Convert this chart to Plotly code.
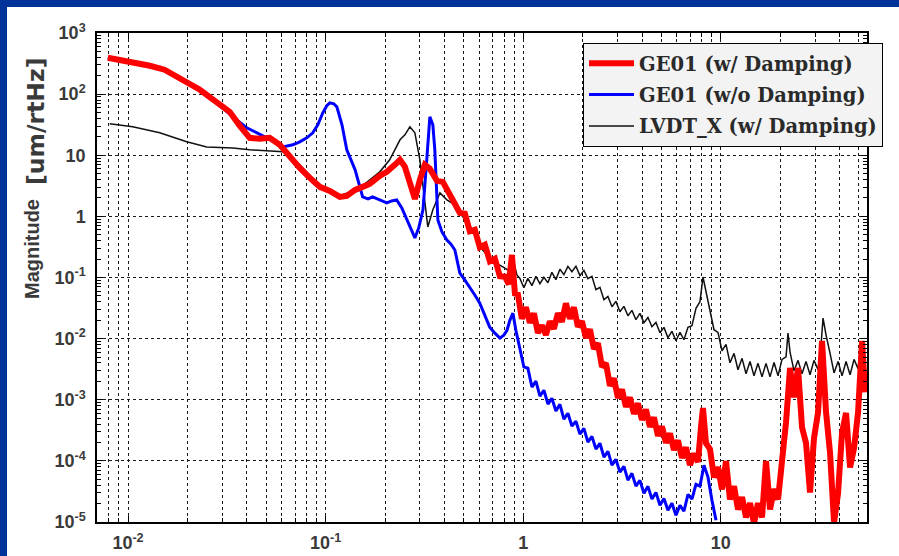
import plotly.graph_objects as go

# ---------------- data ----------------
red_freq = [0.0079, 0.0102, 0.0129, 0.0153, 0.0194, 0.0231, 0.0275, 0.0327, 0.0368, 0.0413,
            0.0464, 0.0521, 0.0586, 0.0659, 0.074, 0.0832, 0.0935, 0.105, 0.118, 0.128,
            0.141, 0.154, 0.167, 0.188, 0.204, 0.224, 0.238, 0.252, 0.267, 0.283,
            0.300, 0.318, 0.337, 0.366, 0.392, 0.436, 0.456, 0.478,
            0.507, 0.537, 0.569, 0.603, 0.640, 0.678, 0.719, 0.762, 0.808, 0.846,
            0.877, 0.908, 0.940, 0.985, 1.032, 1.081, 1.133, 1.187, 1.244, 1.303,
            1.365, 1.430, 1.499, 1.570, 1.645, 1.724, 1.806, 1.892, 1.983, 2.077,
            2.176, 2.280, 2.389, 2.503, 2.623, 2.748, 2.879, 3.017, 3.161, 3.311,
            3.470, 3.636, 3.809, 3.990, 4.181, 4.381, 4.590, 4.809, 5.039, 5.279,
            5.531, 5.795, 6.072, 6.362, 6.665, 6.983, 7.317, 7.666, 7.939, 8.126,
            8.416, 8.818, 9.239, 9.680, 10.14, 10.63, 11.13, 11.67, 12.22, 12.81,
            13.42, 14.06, 14.73, 15.43, 16.17, 16.94, 17.75, 18.60, 19.49, 20.41,
            21.39, 22.41, 23.48, 24.60, 25.77, 27.00, 28.29, 29.64, 31.06, 32.54,
            34.10, 35.73, 37.43, 39.22, 41.09, 43.05, 45.11, 47.26, 49.52, 51.88, 53.73]
red_mag = [394, 339, 291, 251, 165, 118, 77.8, 51.4, 30.3, 19.3,
           18.6, 19.3, 14.8, 9.42, 6.22, 4.26, 3.04, 2.61, 2.08, 2.16,
           2.71, 3.04, 3.40, 4.60, 5.35, 6.97, 8.41, 6.46, 3.53, 1.93,
           3.96, 6.97, 5.99, 3.81, 3.67, 1.93, 1.60, 1.14,
           1.109, 0.571, 0.605, 0.313, 0.344, 0.1845, 0.203, 0.1047, 0.103, 0.0774,
           0.234, 0.0547, 0.0527, 0.0211, 0.0325, 0.0182, 0.0259, 0.01247, 0.01648, 0.01156,
           0.01919, 0.01449, 0.0259, 0.01888, 0.0378, 0.0211, 0.0325, 0.01563, 0.01919, 0.01033,
           0.01419, 0.00682, 0.00838, 0.00346, 0.00394, 0.00169, 0.00223, 0.001074, 0.001476, 0.000766,
           0.001091, 0.000587, 0.000871, 0.000469, 0.000693, 0.00036, 0.000513, 0.000256, 0.000366, 0.000197,
           0.000281, 0.000151, 0.000215, 0.000112, 0.000166, 8.57e-5, 0.000132, 9.6e-5, 0.000356, 0.00073,
           0.000194, 0.000156, 5.36e-5, 7.9e-5, 3.41e-5, 9.93e-5, 2.34e-5, 3.86e-5, 1.60e-5, 2.55e-5,
           1.19e-5, 2.04e-5, 9.46e-6, 2.04e-5, 1.19e-5, 9.93e-5, 1.60e-5, 3.45e-5, 2.34e-5, 9.93e-5,
           0.000427, 0.00332, 0.001094, 0.00332, 0.000353, 0.000196, 3.04e-5, 0.000237, 0.000622, 0.00918,
           0.000622, 0.000135, 9.8e-6, 2.97e-5, 0.000292, 0.000608, 7.8e-5, 0.000162, 0.000622, 0.00918, 0.00132]

blue_freq = [0.0079, 0.0102, 0.0129, 0.0153, 0.0194, 0.0231, 0.0275, 0.0339, 0.0399, 0.0504,
             0.0607, 0.0682, 0.074, 0.0803, 0.0861, 0.0913, 0.0968, 0.1014, 0.105, 0.110,
             0.114, 0.121, 0.128, 0.141, 0.154, 0.164, 0.173, 0.188, 0.204, 0.216,
             0.229, 0.243, 0.258, 0.270, 0.283, 0.296, 0.311, 0.325, 0.337, 0.349,
             0.357, 0.370, 0.388, 0.411, 0.430, 0.451, 0.467, 0.478, 0.507, 0.537,
             0.569, 0.603, 0.638, 0.677, 0.719, 0.762, 0.798, 0.828, 0.857, 0.887, 0.918,
             0.962, 1.008, 1.056, 1.107, 1.160, 1.215, 1.273, 1.334, 1.397, 1.464,
             1.534, 1.607, 1.684, 1.764, 1.849, 1.937, 2.029, 2.126, 2.228, 2.334,
             2.446, 2.562, 2.685, 2.813, 2.947, 3.087, 3.235, 3.389, 3.551, 3.720,
             3.898, 4.084, 4.279, 4.483, 4.697, 4.921, 5.156, 5.402, 5.660, 5.931,
             6.214, 6.511, 6.822, 7.147, 7.488, 7.846, 8.222, 8.614, 9.024, 9.456]
blue_mag = [394, 339, 291, 251, 165, 118, 77.8, 42.6, 28.1, 19.3,
            13.7, 14.8, 16.6, 19.3, 23.3, 31.5, 49.5, 64.5, 72, 69.5,
            62, 31.5, 12.3, 5.77, 2.08, 1.93, 2.08, 1.86, 1.66, 1.79,
            1.86, 1.37, 0.875, 0.600, 0.444, 0.647, 1.28, 8.41, 42.6, 31.5,
            12.3, 0.875, 0.556, 0.411, 0.354, 0.282, 0.179, 0.118, 0.0908, 0.0697,
            0.0517, 0.0381, 0.0252, 0.0154, 0.0123, 0.0102, 0.0114, 0.0137, 0.0201, 0.0261, 0.0137,
            0.00649, 0.00344, 0.00328, 0.001614, 0.00201, 0.00115, 0.00143, 0.000851, 0.001057, 0.000653,
            0.000843, 0.000483, 0.000601, 0.000372, 0.000445, 0.000274, 0.000341, 0.000203, 0.000252, 0.000156,
            0.000194, 0.000115, 0.000143, 8.53e-5, 0.000106, 6.55e-5, 8.13e-5, 4.84e-5, 6.25e-5, 3.86e-5,
            4.80e-5, 2.96e-5, 3.83e-5, 2.37e-5, 3.05e-5, 1.88e-5, 2.43e-5, 1.56e-5, 2.02e-5, 1.29e-5,
            1.87e-5, 1.50e-5, 2.83e-5, 2.37e-5, 4.13e-5, 3.86e-5, 8.45e-5, 5.42e-5, 2.26e-5, 1.07e-5]

black_freq = [0.00808, 0.01056, 0.01447, 0.01982, 0.02503, 0.0339, 0.0413, 0.0607, 0.074, 0.0935,
              0.118, 0.149, 0.188, 0.211, 0.238, 0.252, 0.267, 0.283, 0.300, 0.318,
              0.329, 0.349, 0.379, 0.411, 0.451, 0.507, 0.556, 0.590, 0.624, 0.663,
              0.703, 0.745, 0.789, 0.837, 0.887, 0.929,
              0.962, 1.008, 1.056, 1.107, 1.160, 1.215, 1.273, 1.334, 1.397, 1.464,
              1.534, 1.607, 1.684, 1.764, 1.849, 1.937, 2.029, 2.126, 2.228, 2.334,
              2.446, 2.562, 2.685, 2.813, 2.947, 3.087, 3.235, 3.389, 3.551, 3.720,
              3.898, 4.084, 4.279, 4.483, 4.697, 4.921, 5.156, 5.402, 5.660, 5.931,
              6.214, 6.511, 6.822, 7.147, 7.488, 7.846, 8.126, 8.416, 8.818, 9.239,
              9.680, 10.14, 10.63, 11.13, 11.67, 12.22, 12.81, 13.42, 14.06, 14.73,
              15.43, 16.17, 16.94, 17.75, 18.60, 19.49, 20.41, 21.39, 21.89, 22.41,
              23.48, 24.60, 25.77, 27.00, 28.29, 29.64, 31.06, 32.17, 32.93, 34.10,
              35.73, 37.43, 39.22, 41.09, 43.05, 45.11, 47.26, 49.52, 50.68]
black_mag = [32.7, 29.2, 23.3, 16.6, 13.7, 13.2, 12.3, 11.4, 6.97, 3.15,
             2.16, 2.92, 5.35, 8.41, 17.9, 21.6, 29.2, 23.3, 8.41, 1.86,
             0.672, 1.28, 2.42, 1.86, 1.54, 0.875, 0.536, 0.411, 0.282, 0.225,
             0.193, 0.166, 0.149, 0.132, 0.209, 0.110,
             0.0968, 0.0681, 0.0968, 0.0735, 0.1045, 0.0793, 0.1007, 0.0822, 0.1216, 0.0923,
             0.1361, 0.1114, 0.1524, 0.1247, 0.1524, 0.1072, 0.1309, 0.0957, 0.1045, 0.0632,
             0.0690, 0.0434, 0.0491, 0.0333, 0.0407, 0.0275, 0.0337, 0.0237, 0.0290, 0.0204,
             0.0259, 0.0182, 0.0222, 0.01567, 0.01845, 0.01247, 0.01528, 0.01035, 0.01312, 0.00923,
             0.01265, 0.00959, 0.01528, 0.01626, 0.0313, 0.0402, 0.1019, 0.0579, 0.0313, 0.0140,
             0.01265, 0.00633, 0.00806, 0.00402, 0.00574, 0.00309, 0.00476, 0.00266, 0.00424, 0.00246,
             0.00394, 0.00237, 0.00394, 0.00237, 0.00408, 0.00246, 0.00457, 0.00502, 0.01233, 0.00603,
             0.00297, 0.00441, 0.00266, 0.00424, 0.00256, 0.00441, 0.00309, 0.00785, 0.0217, 0.01143,
             0.00574, 0.00275, 0.00424, 0.00246, 0.00424, 0.00256, 0.00457, 0.00321, 0.00603]

series_names = ["GE01 (w/ Damping)", "GE01 (w/o Damping)", "LVDT_X (w/ Damping)"]
x_tick_values = [0.01, 0.1, 1, 10]
x_tick_labels = ["10<sup>-2</sup>", "10<sup>-1</sup>", "1", "10"]
y_tick_values = [1e-5, 1e-4, 1e-3, 1e-2, 1e-1, 1, 10, 100, 1000]
y_tick_labels = ["10<sup>-5</sup>", "10<sup>-4</sup>", "10<sup>-3</sup>", "10<sup>-2</sup>",
                 "10<sup>-1</sup>", "1", "10", "10<sup>2</sup>", "10<sup>3</sup>"]
y_title_word = "Magnitude"
y_title_unit = "[um/rtHz]"

# ---------------- figure ----------------
W, H = 899, 556
ML, MR, MT, MB = 97, 32, 33, 34
PW, PH = W - ML - MR, H - MT - MB

def px_x(p):
    return (p - ML) / PW

def px_y(p):
    return (H - MB - p) / PH

minor_vals = [k * 10.0 ** e for e in range(-6, 4) for k in range(2, 10)]
frame_blue = "#00339a"

fig = go.Figure()
fig.add_trace(go.Scatter(x=black_freq, y=black_mag, mode="lines", name=series_names[2],
                         line=dict(color="#111111", width=1.5), legendrank=3, legendgroup="c"))
fig.add_trace(go.Scatter(x=blue_freq, y=blue_mag, mode="lines", name=series_names[1],
                         line=dict(color="#0000ff", width=3), legendrank=2, legendgroup="b"))
fig.add_trace(go.Scatter(x=red_freq, y=red_mag, mode="lines", name=series_names[0],
                         line=dict(color="#ff0000", width=6), legendrank=1, legendgroup="a"))

grid_col = "#1a1a1a"
tickfont = dict(family="Liberation Sans, Arial, sans-serif", size=18, color="#3a3a3a", weight="bold")

fig.update_xaxes(type="log", range=[-2.157, 1.740], automargin=False,
                 tickmode="array", tickvals=x_tick_values, ticktext=x_tick_labels,
                 tickfont=tickfont, ticks="inside", ticklen=6, tickcolor="#000",
                 showgrid=True, gridcolor=grid_col, gridwidth=1, griddash="3px,3px",
                 showline=True, linecolor="#000", linewidth=1.5, mirror="ticks",
                 ticklabelstandoff=4,
                 minor=dict(tickmode="array", tickvals=minor_vals, ticks="inside", ticklen=4,
                            tickcolor="#000", showgrid=True, gridcolor=grid_col, gridwidth=1,
                            griddash="3px,3px"),
                 zeroline=False)
fig.update_yaxes(type="log", range=[-5, 3], automargin=False,
                 tickmode="array", tickvals=y_tick_values, ticktext=y_tick_labels,
                 tickfont=tickfont, ticks="inside", ticklen=6, tickcolor="#000",
                 showgrid=True, gridcolor=grid_col, gridwidth=1, griddash="3px,3px",
                 showline=True, linecolor="#000", linewidth=1.5, mirror="ticks",
                 ticklabelstandoff=6,
                 minor=dict(tickmode="array", tickvals=minor_vals, ticks="inside", ticklen=4,
                            tickcolor="#000", showgrid=False),
                 zeroline=False)

fig.update_layout(
    width=W, height=H, autosize=False,
    margin=dict(l=ML, r=MR, t=MT, b=MB, pad=0),
    paper_bgcolor="#ffffff",
    plot_bgcolor="#ffffff",
    showlegend=True,
    legend=dict(x=px_x(583), y=px_y(43), xanchor="left", yanchor="top",
                bgcolor="#f3f3f3", bordercolor="#000000", borderwidth=1,
                font=dict(family="DejaVu Serif, serif", size=19.5, color="#2a2a2a", weight="bold"),
                tracegroupgap=3, itemwidth=45),
    shapes=[dict(type="rect", xref="paper", yref="paper", layer="below",
                 x0=px_x(-5), x1=px_x(W + 5), y0=px_y(7), y1=px_y(-5),
                 fillcolor=frame_blue, line=dict(width=0)),
            dict(type="rect", xref="paper", yref="paper", layer="below",
                 x0=px_x(-5), x1=px_x(7), y0=px_y(H + 5), y1=px_y(-5),
                 fillcolor=frame_blue, line=dict(width=0))],
    annotations=[dict(text="<b>" + y_title_word + "</b>", xref="paper", yref="paper",
                      x=px_x(32), y=px_y(249), xanchor="center", yanchor="middle",
                      textangle=-90, showarrow=False,
                      font=dict(family="Liberation Sans, Arial, sans-serif", size=20, color="#3a3a3a")),
                 dict(text="<b>" + y_title_unit + "</b>", xref="paper", yref="paper",
                      x=px_x(36), y=px_y(122), xanchor="center", yanchor="middle",
                      textangle=-90, showarrow=False,
                      font=dict(family="DejaVu Sans, sans-serif", size=23.5, color="#3a3a3a"))],
)

fig.write_html("out.html",
               config={"displayModeBar": False},
               post_script="document.body.style.margin='0px';"
                           "document.body.style.overflow='hidden';"
                           "document.documentElement.style.overflow='hidden';"
                           "document.documentElement.style.background='#ffffff';"
                           "document.body.style.background='#ffffff';")
